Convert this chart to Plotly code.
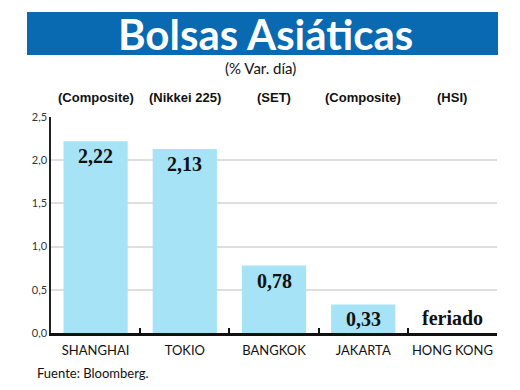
import plotly.graph_objects as go

categories = ["SHANGHAI", "TOKIO", "BANGKOK", "JAKARTA", "HONG KONG"]
indices = ["(Composite)", "(Nikkei 225)", "(SET)", "(Composite)", "(HSI)"]
values = [2.22, 2.13, 0.78, 0.33, None]
value_labels = ["2,22", "2,13", "0,78", "0,33", "feriado"]
y_ticks = [0.0, 0.5, 1.0, 1.5, 2.0, 2.5]

title_text = "Bolsas Asiáticas"
subtitle_text = "(% Var. día)"
source_text = "Fuente: Bloomberg."

BAR = "#a6e3f7"
BLUE = "#0969b1"

# page has an 8px body margin; plot area targets (screen): x 51..497, y 117..333
OFF = 8
L, T, W, H = 51 - OFF, 117 - OFF, 446, 216

fig = go.Figure()
fig.add_trace(go.Bar(
    x=categories,
    y=[v if v is not None else 0 for v in values],
    width=0.72,
    marker=dict(color=BAR, line=dict(width=0)),
    hoverinfo="skip",
))

def px(xs):
    return (xs - 51) / W

def py(ys):
    return (333 - ys) / H

annotations = []
for c, v, lab in zip(categories, values, value_labels):
    if v is None:
        annotations.append(dict(x=c, y=0, xref="x", yref="y", text="<b>%s</b>" % lab, showarrow=False,
                                yanchor="bottom", yshift=2,
                                font=dict(family="Liberation Serif", size=20, color="#111")))
    else:
        annotations.append(dict(x=c, y=v, xref="x", yref="y", text="<b>%s</b>" % lab, showarrow=False,
                                yanchor="top", yshift=-2,
                                font=dict(family="Liberation Serif", size=20, color="#111")))

for c, idx in zip(categories, indices):
    annotations.append(dict(x=c, y=1, xref="x", yref="paper", text="<b>%s</b>" % idx, showarrow=False,
                            yanchor="middle", yshift=20,
                            font=dict(family="Liberation Sans Narrow, Liberation Sans", size=13, color="#111")))

annotations.append(dict(x=px(265), y=py(34), xref="paper", yref="paper",
                        text="<b>%s</b>" % title_text, showarrow=False, xanchor="center", yanchor="middle",
                        font=dict(family="Lato", size=42, color="white")))
annotations.append(dict(x=px(260), y=py(68), xref="paper", yref="paper",
                        text=subtitle_text, showarrow=False, xanchor="center", yanchor="middle",
                        font=dict(family="Lato", size=15, color="#111")))
annotations.append(dict(x=px(35), y=py(373), xref="paper", yref="paper",
                        text=source_text, showarrow=False, xanchor="left", yanchor="middle",
                        font=dict(family="Lato", size=13, color="#111")))

fig.update_layout(
    width=520, height=390,
    margin=dict(l=L, r=520 - L - W, t=T, b=390 - T - H, autoexpand=False),
    paper_bgcolor="white", plot_bgcolor="white",
    separators=",.",
    showlegend=False,
    annotations=annotations,
    shapes=[dict(type="rect", xref="paper", yref="paper",
                 x0=px(27), x1=px(498), y0=py(55), y1=py(12),
                 fillcolor=BLUE, line=dict(width=0), layer="below")],
    xaxis=dict(
        type="category",
        range=[-0.5, 4.5],
        showgrid=False,
        showline=True, linecolor="#111", linewidth=2.5,
        ticks="inside", tickson="boundaries", ticklen=5, tickwidth=2, tickcolor="#111",
        tickfont=dict(family="Lato", size=13, color="#111"),
        tickangle=0,
        ticklabelstandoff=4,
        fixedrange=True,
    ),
    yaxis=dict(
        range=[0, 2.5],
        tickvals=y_ticks,
        tickformat=".1f",
        showgrid=True, gridcolor="#dedede", gridwidth=1.5,
        showline=True, linecolor="#222", linewidth=1.5,
        ticks="", zeroline=False,
        tickfont=dict(family="Lato", size=11, color="#333"),
        fixedrange=True,
    ),
)

fig.write_html("out.html")
